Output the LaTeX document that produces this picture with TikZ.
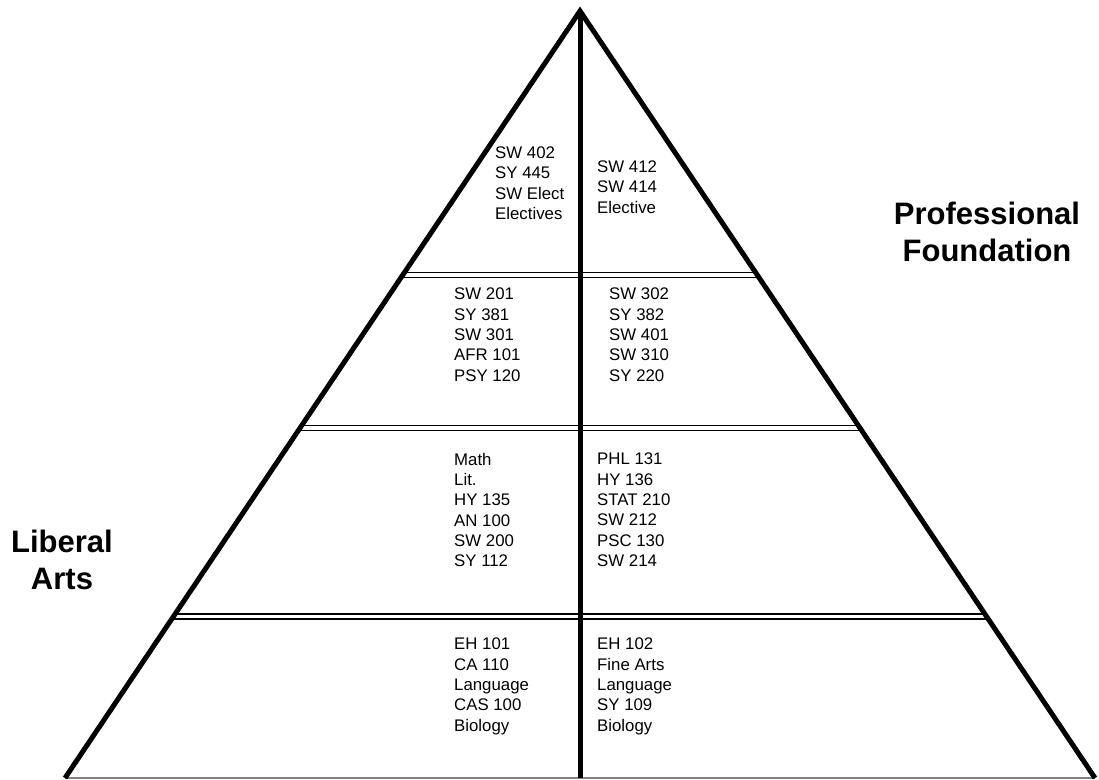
\documentclass[tikz,border=0pt]{standalone}
\usepackage{fontspec}
\setmainfont{Liberation Sans}
\usetikzlibrary{calc}
\begin{document}
\begin{tikzpicture}[x=1pt,y=-1pt,
  edge/.style={line width=5pt},
  divider/.style={line width=1.5pt},
  course/.style={anchor=north west, align=left, inner sep=0pt, font=\fontsize{16.8}{20.3}\selectfont},
  side/.style={anchor=north, align=center, inner sep=0pt, font=\bfseries\fontsize{31}{37}\selectfont}]
\useasboundingbox (0,0) rectangle (1099,779);
\coordinate (apex) at (580,11);
\coordinate (bl) at (65,778);
\coordinate (br) at (1095,778);
\coordinate (bm) at ($(bl)!0.5!(br)$);
% base and band dividers
\draw[gray, line width=1.5pt] (bl) -- (br);
\foreach \y in {272.5,277.5,425.5,430.5,614,619}
  \draw[divider] ($(apex)!{(\y-11)/767}!(bl)$) -- ($(apex)!{(\y-11)/767}!(br)$);
% pyramid
\draw[edge] (bl) -- (apex) -- (br);
\draw[edge] (apex) -- (bm);
% courses
\node[course] (topl) at (495,146.6) {SW 402\\SY 445\\SW Elect\\Electives};
\node[course] (topr) at (597,160.7) {SW 412\\SW 414\\Elective};
\node[course] (upl) at (454,288) {SW 201\\SY 381\\SW 301\\AFR 101\\PSY 120};
\node[course] (upr) at (609,288) {SW 302\\SY 382\\SW 401\\SW 310\\SY 220};
\node[course] (midl) at (454,453) {Math\\Lit.\\HY 135\\AN 100\\SW 200\\SY 112};
\node[course] (midr) at (597,453) {PHL 131\\HY 136\\STAT 210\\SW 212\\PSC 130\\SW 214};
\node[course] (lowl) at (454,638) {EH 101\\CA 110\\Language\\CAS 100\\Biology};
\node[course] (lowr) at (597,638) {EH 102\\Fine Arts\\Language\\SY 109\\Biology};
% side labels
\node[side] (prof) at (987,202) {Professional\\Foundation};
\node[side] (lib) at (62,530) {Liberal\\Arts};
\end{tikzpicture}
\end{document}
